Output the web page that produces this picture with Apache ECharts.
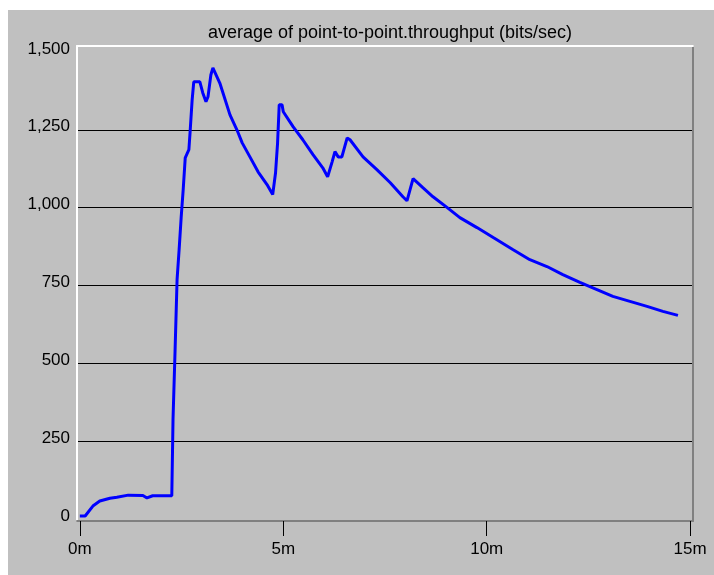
<!DOCTYPE html>
<html>
<head>
<meta charset="utf-8">
<script src="https://cdn.jsdelivr.net/npm/echarts@6/dist/echarts.min.js"></script>
<style>
html,body{margin:0;padding:0;background:#ffffff;}
#chart{position:absolute;left:8px;top:10px;width:706px;height:565px;}
</style>
</head>
<body>
<div id="chart"></div>
<script>
var chartTitle = 'average of point-to-point.throughput (bits/sec)';
// time in minutes
var timeMin = [0.00,0.13,0.32,0.49,0.74,0.91,1.19,1.55,1.65,1.79,2.26,2.29,2.34,2.39,2.44,2.49,2.54,2.59,2.68,2.71,2.76,2.80,2.95,3.02,3.10,3.15,3.22,3.27,3.44,3.69,3.86,3.99,4.18,4.38,4.60,4.74,4.77,4.81,4.86,4.90,4.97,5.00,5.24,5.48,5.73,5.97,6.09,6.20,6.27,6.35,6.44,6.57,6.64,6.96,7.30,7.63,7.94,8.04,8.19,8.43,8.68,9.03,9.34,9.76,10.16,10.65,11.06,11.48,11.87,12.29,12.71,13.10,13.52,13.94,14.33,14.70];
// average throughput (bits/sec)
var throughput = [10,10,42,58,67,70,77,76,68,75,75,320,540,770,865,968,1058,1160,1186,1243,1346,1404,1404,1369,1340,1356,1426,1449,1400,1298,1250,1208,1163,1115,1074,1042,1042,1112,1208,1330,1330,1308,1260,1218,1170,1128,1099,1147,1180,1163,1163,1224,1218,1163,1122,1080,1035,1022,1093,1064,1035,1000,968,936,904,865,833,811,785,760,737,715,699,683,667,654];
var xTickValues = [0,5,10,15];
var yLabelValues = [0,250,500,750,1000,1250,1500];
var yGridValues = [250,500,750,1000,1250];

var seriesData = timeMin.map(function(t,i){return [t, throughput[i]];});
var font = '"Liberation Sans", Arial, sans-serif';

var chart = echarts.init(document.getElementById('chart'));
chart.setOption({
  backgroundColor: '#c0c0c0',
  animation: false,
  title: {
    text: chartTitle,
    left: 377, textAlign: 'center', top: 9,
    textStyle: {fontFamily: font, fontSize: 18, fontWeight: 'normal', color: '#000'}
  },
  grid: {left: 69, right: 21, top: 36, bottom: 54, containLabel: false},
  xAxis: [{
    type: 'value', min: -0.07, max: 15.07, position: 'bottom',
    axisLine: {show: true, onZero: false, lineStyle: {color: '#808080', width: 2}},
    axisTick: {show: true, length: 15, customValues: xTickValues, lineStyle: {color: '#000', width: 1}},
    axisLabel: {customValues: xTickValues, formatter: function(v){return Math.round(v) + 'm';}, margin: 20, color: '#000', fontFamily: font, fontSize: 17},
    splitLine: {show: false}
  },{
    type: 'value', min: -0.07, max: 15.07, position: 'top',
    axisLine: {show: true, onZero: false, lineStyle: {color: '#ffffff', width: 2}},
    axisTick: {show: false}, axisLabel: {show: false}, splitLine: {show: false}
  }],
  yAxis: [{
    type: 'value', min: -6, max: 1519, position: 'left',
    axisLine: {show: true, onZero: false, lineStyle: {color: '#ffffff', width: 2}},
    axisTick: {show: false, customValues: yGridValues},
    axisLabel: {customValues: yLabelValues, formatter: function(v){return echarts.format.addCommas(Math.round(v));}, margin: 7, color: '#000', fontFamily: font, fontSize: 17, verticalAlign: 'bottom', lineHeight: 6},
    splitLine: {show: true, lineStyle: {color: '#000', width: 1}}
  },{
    type: 'value', min: -6, max: 1519, position: 'right',
    axisLine: {show: true, onZero: false, lineStyle: {color: '#808080', width: 2}},
    axisTick: {show: false}, axisLabel: {show: false}, splitLine: {show: false}
  }],
  series: [{
    type: 'line', xAxisIndex: 0, yAxisIndex: 0,
    data: seriesData, showSymbol: false, symbol: 'none',
    lineStyle: {color: '#0000ff', width: 3}, z: 5
  }]
});
</script>
</body>
</html>
